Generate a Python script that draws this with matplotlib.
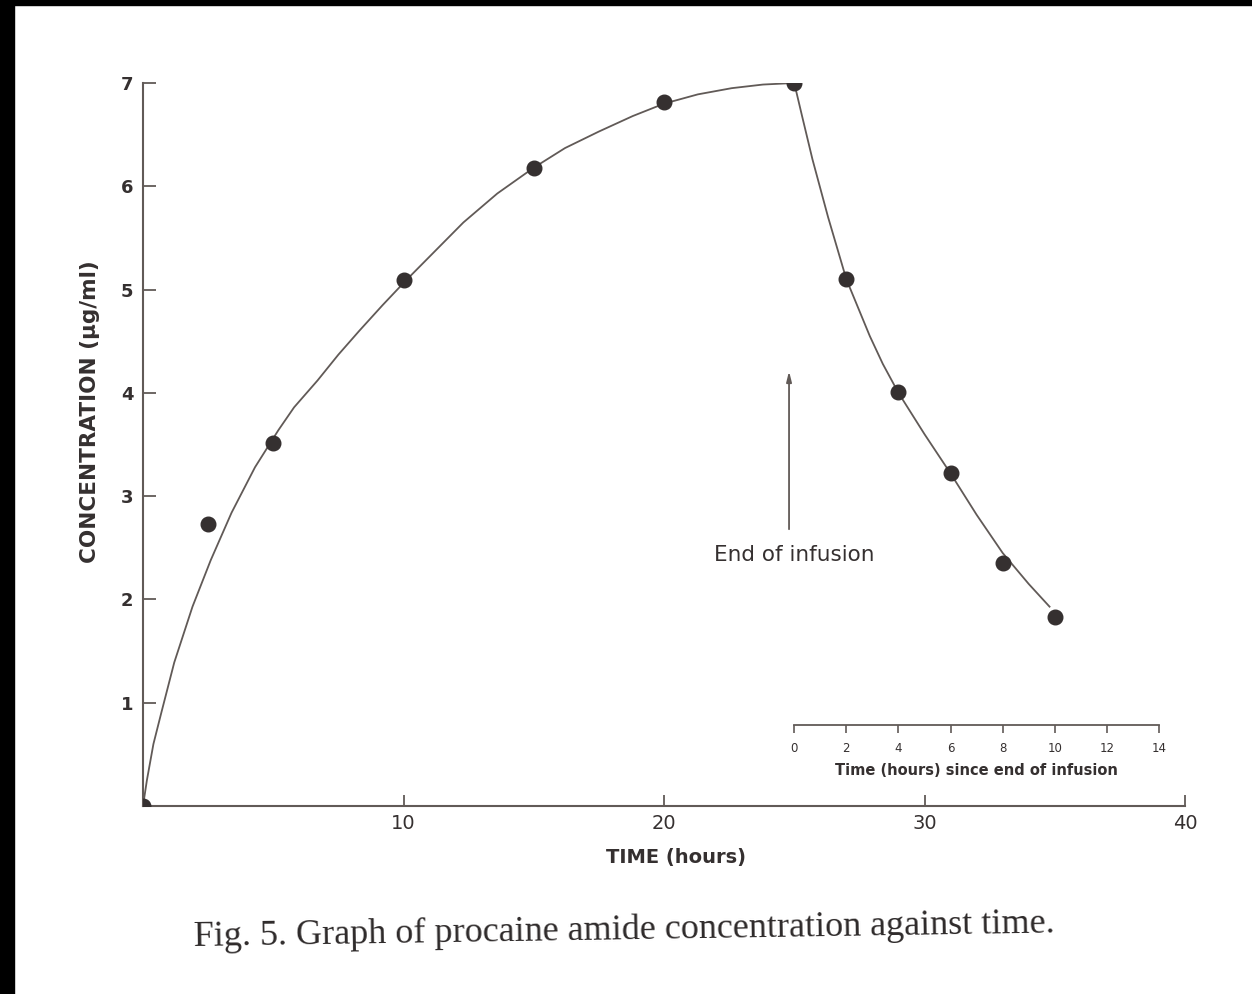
import matplotlib
matplotlib.use("Agg")
import matplotlib.pyplot as plt
from matplotlib.patches import Rectangle

# measured concentrations (hours, ug/ml)
time_h = [0, 2.5, 5, 10, 15, 20, 25, 27, 29, 31, 33, 35]
conc = [0.0, 2.73, 3.51, 5.09, 6.18, 6.82, 7.0, 5.1, 4.01, 3.22, 2.35, 1.83]

# hand-drawn smooth curve
curve_t = [0, 0.15, 0.4, 0.7, 1.2, 1.9, 2.6, 3.4, 4.3, 5.2, 5.8, 6.7, 7.5, 8.3, 9.2,
           10.1, 11.2, 12.3, 13.6, 15, 16.2, 17.5, 18.8, 20, 21.3, 22.6, 23.8, 25,
           25.3, 25.7, 26.3, 27, 27.9, 28.4, 29, 30, 31, 32, 33, 34, 34.8]
curve_c = [0, 0.25, 0.6, 0.9, 1.39, 1.93, 2.38, 2.84, 3.28, 3.64, 3.86, 4.12, 4.37, 4.6, 4.85,
           5.09, 5.37, 5.65, 5.93, 6.18, 6.37, 6.53, 6.68, 6.8, 6.89, 6.95, 6.985, 7.0,
           6.68, 6.26, 5.7, 5.1, 4.55, 4.28, 4.0, 3.6, 3.22, 2.82, 2.45, 2.15, 1.93]

x_ticks = [10, 20, 30, 40]
y_ticks = [1, 2, 3, 4, 5, 6, 7]
inset_ticks = [0, 2, 4, 6, 8, 10, 12, 14]

INK = "#353030"
LINE = "#615a57"
SANS = ["DejaVu Sans"]
SERIF = ["Liberation Serif", "DejaVu Serif"]

W, H = 1252, 994
fig = plt.figure(figsize=(W / 100, H / 100), dpi=100)
fig.patch.set_facecolor("white")

# scanner border
fig.patches.append(Rectangle((0, 1 - 5 / H), 1, 5 / H, transform=fig.transFigure,
                             color="black", zorder=0))
fig.patches.append(Rectangle((0, 0), 14 / W, 1, transform=fig.transFigure,
                             color="black", zorder=0))

ax = fig.add_axes([143 / W, 1 - 806 / H, 1042 / W, (806 - 83) / H])
ax.set_xlim(0, 40)
ax.set_ylim(0, 7)
for s in ("top", "right"):
    ax.spines[s].set_visible(False)
for s in ("left", "bottom"):
    ax.spines[s].set_color(LINE)
    ax.spines[s].set_linewidth(1.5)

ax.plot(curve_t, curve_c, color=LINE, lw=1.3, zorder=2)
ax.plot(time_h, conc, "o", color=INK, ms=10.5, zorder=3)

ax.set_xticks(x_ticks)
ax.set_yticks(y_ticks)
ax.tick_params(axis="x", direction="in", length=8, width=1.3, color=LINE, pad=6,
               labelsize=14, labelcolor=INK)
ax.tick_params(axis="y", direction="in", length=9, width=1.3, color=LINE, pad=7,
               labelsize=13, labelcolor=INK)
for lab in ax.get_xticklabels():
    lab.set_family(SANS)
for lab in ax.get_yticklabels():
    lab.set_family(SANS)
    lab.set_fontweight("bold")

fig.text(676 / W, 1 - 858 / H, "TIME (hours)", ha="center", va="center",
         fontsize=14, fontweight="bold", color=INK, family=SANS)
fig.text(90 / W, 1 - 412 / H, "CONCENTRATION (\u03bcg/ml)", ha="center", va="center",
         rotation=90, fontsize=15.5, fontweight="bold", color=INK, family=SANS)

# end of infusion marker
ax.annotate("", xy=(24.8, 4.21), xytext=(24.8, 2.68),
            arrowprops=dict(arrowstyle="-|>,head_length=0.6,head_width=0.15",
                            color=LINE, lw=1.3, shrinkA=0, shrinkB=0))
ax.text(25.0, 2.43, "End of infusion", ha="center", va="center", fontsize=15.5,
        color=INK, family=SANS)

# secondary time scale since end of infusion
ins = ax.inset_axes([25, 0.785, 14, 0.01], transform=ax.transData)
ins.set_xlim(0, 14)
ins.set_ylim(0, 1)
ins.patch.set_visible(False)
for s in ("top", "right", "left"):
    ins.spines[s].set_visible(False)
ins.spines["bottom"].set_color(LINE)
ins.spines["bottom"].set_linewidth(1.3)
ins.set_yticks([])
ins.set_xticks(inset_ticks)
ins.tick_params(axis="x", direction="out", length=6, width=1.2, color=LINE, pad=6,
                labelsize=8.5, labelcolor=INK)
for lab in ins.get_xticklabels():
    lab.set_family(SANS)
ins.set_xlabel("Time (hours) since end of infusion", fontsize=10.5, fontweight="bold",
               color=INK, family=SANS, labelpad=6)

fig.text(624 / W, 1 - 930 / H, "Fig. 5. Graph of procaine amide concentration against time.",
         ha="center", va="center", fontsize=26, color="#2e2a2a", family=SERIF,
         rotation=0.9)

fig.savefig("out.png", dpi=100, facecolor="white")
